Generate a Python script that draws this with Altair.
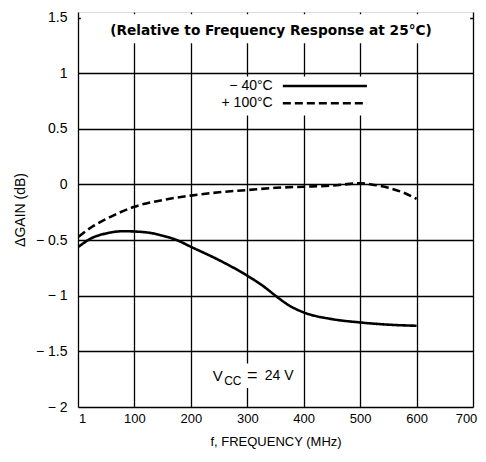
import altair as alt
import pandas as pd

# -40°C curve (solid)
f_cold = [1, 25, 50, 80, 120, 150, 175, 200, 250, 300, 330, 350, 375, 400, 450, 500, 550, 600]
g_cold = [-0.56, -0.48, -0.44, -0.42, -0.43, -0.46, -0.5, -0.56, -0.68, -0.82, -0.92, -1.0, -1.09, -1.15, -1.21, -1.24, -1.26, -1.27]
# +100°C curve (dashed)
f_hot = [1, 25, 50, 100, 150, 200, 250, 300, 350, 400, 450, 500, 520, 550, 575, 600]
g_hot = [-0.47, -0.38, -0.31, -0.2, -0.14, -0.1, -0.07, -0.05, -0.03, -0.02, -0.01, 0.01, 0.0, -0.03, -0.07, -0.13]

x_ticks = [0, 100, 200, 300, 400, 500, 600, 700]
y_ticks = [-2, -1.5, -1, -0.5, 0, 0.5, 1, 1.5]

legend_labels = ["\u2212 40\u00b0C", "+ 100\u00b0C"]
legend_y = [0.885, 0.73]

title_text = "(Relative to Frequency Response at 25\u00b0C)"

df = pd.concat([
    pd.DataFrame({"f": f_cold, "g": g_cold, "s": "cold"}),
    pd.DataFrame({"f": f_hot, "g": g_hot, "s": "hot"}),
])

xs = alt.Scale(domain=[0, 700], nice=False)
ys = alt.Scale(domain=[-2, 1.55], nice=False)

FONT = "Liberation Sans"
dash_scale = alt.Scale(domain=["cold", "hot"], range=[[1, 0], [8, 4]])

xaxis = alt.Axis(values=x_ticks, grid=True, gridColor="black", gridWidth=1.3, gridOpacity=1,
                 ticks=False, domain=False, labelFont=FONT, labelFontSize=13, labelColor="black",
                 labelPadding=5, labelExpr="datum.value == 0 ? '1' : datum.label",
                 labelOffset={"condition": [{"test": "datum.value == 700", "value": -7},
                                            {"test": "datum.value == 0", "value": 4}],
                              "value": 0},
                 title="f, FREQUENCY (MHz)", titleFont=FONT, titleFontSize=13, titleFontWeight="normal",
                 titleColor="black", titlePadding=10, labelFlush=False)
yaxis = alt.Axis(values=y_ticks, grid=True, gridColor="black", gridWidth=1.3, gridOpacity=1,
                 ticks=False, domain=False, labelFont=FONT, labelFontSize=14, labelColor="black",
                 labelPadding=11,
                 labelExpr="datum.value < 0 ? '\u2212 ' + format(-datum.value, '') : format(datum.value, '')",
                 title="\u0394GAIN (dB)", titleFont=FONT, titleFontSize=14, titleFontWeight="normal",
                 titleColor="black", titlePadding=8)

# white boxes behind annotations (in data units)
box_df = pd.DataFrame({
    "x1": [5, 252, 234],
    "x2": [695, 512, 390],
    "y1": [1.27, 0.62, -1.61],
    "y2": [1.53, 0.97, -1.83],
})
boxes = alt.Chart(box_df).mark_rect(color="white").encode(
    x=alt.X("x1:Q", scale=xs, axis=xaxis), x2="x2:Q",
    y=alt.Y("y1:Q", scale=ys, axis=yaxis), y2="y2:Q",
)

lines = alt.Chart(df).mark_line(color="black", strokeWidth=2.6, interpolate="monotone").encode(
    x=alt.X("f:Q", scale=xs),
    y=alt.Y("g:Q", scale=ys),
    detail="s:N",
    strokeDash=alt.StrokeDash("s:N", scale=dash_scale, legend=None),
)

leg_df = pd.DataFrame({"label": legend_labels, "y": legend_y, "x1": [363, 363], "x2": [512, 512],
                       "xt": [345, 345], "dash": ["cold", "hot"]})
leg_lines = alt.Chart(leg_df).mark_rule(color="black", strokeWidth=2.6).encode(
    x=alt.X("x1:Q", scale=xs), x2="x2:Q", y=alt.Y("y:Q", scale=ys),
    strokeDash=alt.StrokeDash("dash:N", scale=dash_scale, legend=None),
)
leg_text = alt.Chart(leg_df).mark_text(align="right", baseline="middle", font=FONT, fontSize=14, color="black").encode(
    x=alt.X("xt:Q", scale=xs), y=alt.Y("y:Q", scale=ys), text="label:N"
)

title_df = pd.DataFrame({"x": [342], "y": [1.38], "t": [title_text]})
title = alt.Chart(title_df).mark_text(align="center", baseline="middle", font="DejaVu Sans", fontSize=13.7,
                                      fontWeight="bold", color="black").encode(
    x=alt.X("x:Q", scale=xs), y=alt.Y("y:Q", scale=ys), text="t:N")

vcc_df = pd.DataFrame({"x": [239, 259, 309, 331], "y": [-1.72, -1.77, -1.72, -1.72],
                       "t": ["V", "CC", "=", "24 V"], "sz": [15, 12, 18, 14],
                       "al": ["left", "left", "center", "left"]})
vcc_l = alt.Chart(vcc_df).transform_filter("datum.al == 'left'").mark_text(
    align="left", baseline="middle", font=FONT, color="black").encode(
    x=alt.X("x:Q", scale=xs), y=alt.Y("y:Q", scale=ys), text="t:N",
    size=alt.Size("sz:Q", scale=None, legend=None))
vcc_c = alt.Chart(vcc_df).transform_filter("datum.al == 'center'").mark_text(
    align="center", baseline="middle", font=FONT, color="black").encode(
    x=alt.X("x:Q", scale=xs), y=alt.Y("y:Q", scale=ys), text="t:N",
    size=alt.Size("sz:Q", scale=None, legend=None))

chart = alt.layer(boxes, lines, leg_lines, leg_text, title, vcc_l, vcc_c).properties(
    width=395, height=395,
    autosize=alt.AutoSizeParams(type="none"),
    padding={"left": 70, "top": 4, "right": 5, "bottom": 55},
).configure_view(stroke="black", strokeWidth=2.8).configure(background="white")

chart.save("out.html", embed_options={"renderer": "svg", "actions": False})
